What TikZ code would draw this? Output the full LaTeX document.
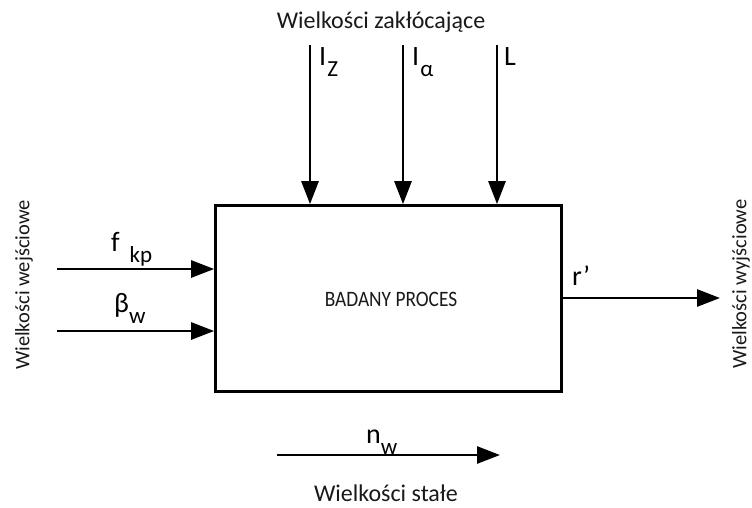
\documentclass[tikz,border=0pt]{standalone}
\usepackage{fontspec}
\setmainfont{Carlito}
\usetikzlibrary{arrows.meta}
\newcommand{\lowsub}[1]{\raisebox{-11pt}{\fontsize{23}{23}\selectfont #1}}
\tikzset{
  sig/.style={line width=2.7pt,-{Triangle[length=23pt,width=17pt]}},
  lbl/.style={font=\fontsize{28}{28}\selectfont,inner sep=0pt,anchor=base west},
  captxt/.style={font=\fontsize{24}{24}\selectfont,inner sep=0pt,text=black!90},
  sidetxt/.style={font=\fontsize{20.5}{20.5}\selectfont,inner sep=0pt,text=black!90,rotate=90},
  procbox/.style={draw,line width=2.7pt,minimum width=346pt,minimum height=186pt,inner sep=0pt}
}
\begin{document}
\begin{tikzpicture}[x=1pt,y=-1pt]
\useasboundingbox (0,0) rectangle (752,507);
\node[procbox] (box) at (388.5,298.5) {};
\node[font=\fontsize{22}{22}\selectfont,xscale=0.88,inner sep=0pt,text=black!90] (boxtxt) at (391,299.5) {BADANY PROCES};
% top disturbances
\coordinate (tz) at (310,45);
\coordinate (ta) at (403,45);
\coordinate (tl) at (497,45);
\draw[sig] (tz) -- (tz |- box.north);
\draw[sig] (ta) -- (ta |- box.north);
\draw[sig] (tl) -- (tl |- box.north);
\node[lbl] (lz) at (319,65) {I\kern1pt\lowsub{Z}};
\node[lbl] (la) at (412,65) {I\kern1pt\lowsub{α}};
\node[lbl] (ll) at (504,65) {L};
\node[captxt,anchor=base] (ttop) at (381,28) {Wielkości zakłócające};
% inputs
\coordinate (in1) at (57,269);
\coordinate (in2) at (57,331);
\draw[sig] (in1) -- (in1 -| box.west);
\draw[sig] (in2) -- (in2 -| box.west);
\node[lbl] (lf) at (111,251) {f\hspace{10pt}\lowsub{kp}};
\node[lbl] (lb) at (114,312) {β\lowsub{w}};
\node[sidetxt] (tin) at (24,285) {Wielkości wejściowe};
% output
\coordinate (out) at (720,298);
\draw[sig] (box.east |- out) -- (out);
\node[lbl] (lr) at (572,285) {r’};
\node[sidetxt] (tout) at (741,284) {Wielkości wyjściowe};
% constants
\coordinate (c1) at (277,455);
\coordinate (c2) at (500,455);
\draw[sig] (c1) -- (c2);
\node[lbl] (ln) at (366,443) {n\lowsub{w}};
\node[captxt,anchor=base] (tbot) at (386,501) {Wielkości stałe};
\end{tikzpicture}
\end{document}
